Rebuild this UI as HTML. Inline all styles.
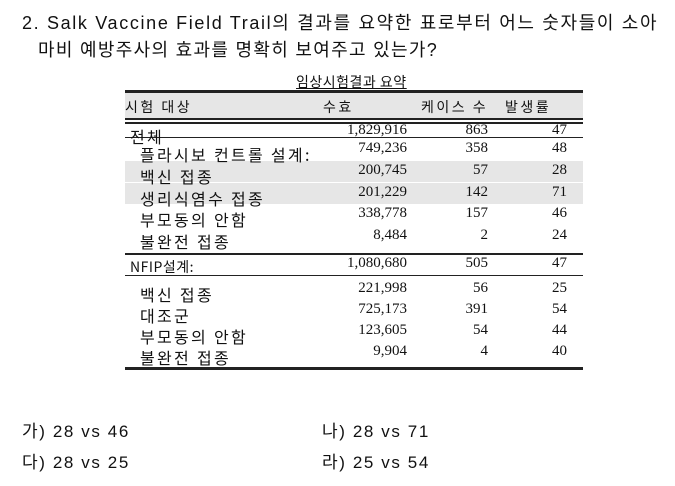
<!DOCTYPE html>
<html><head><meta charset="utf-8"><style>
body{margin:0;width:675px;height:486px;background:#fff;position:relative;overflow:hidden;font-family:"Liberation Sans","Noto Sans CJK KR",sans-serif;color:#111}
.a{position:absolute;white-space:nowrap}
.q{font-size:18px;letter-spacing:1.3px}
.o{font-size:17px;letter-spacing:1.6px}
.ser{font-family:"Liberation Serif","Noto Sans CJK KR",serif;font-size:15px}
.lab{font-family:"Noto Sans CJK KR",sans-serif;font-size:16px;letter-spacing:2.3px}
.hd{font-family:"Noto Sans CJK KR",sans-serif;font-size:14px;letter-spacing:2.5px}
.r{text-align:right}
.line{position:absolute;left:125px;width:458px;background:#222}
.grey{position:absolute;left:125px;width:458px;background:#e6e6e6}
</style></head><body>
<div class="a q" style="left:22px;top:9px;letter-spacing:1.65px">2. Salk Vaccine Field Trail의 결과를 요약한 표로부터 어느 숫자들이 소아</div>
<div class="a q" style="left:38px;top:36px">마비 예방주사의 효과를 명확히 보여주고 있는가?</div>

<div>
<div class="a lab" style="left:296px;top:72px;font-size:14px;letter-spacing:0.5px;text-decoration:underline">임상시험결과 요약</div>
<div class="grey" style="top:93px;height:25px"></div>
<div class="grey" style="top:161px;height:21px"></div>
<div class="grey" style="top:183px;height:21px"></div>
<div class="line" style="top:90px;height:3px"></div>
<div class="line" style="top:118px;height:2px"></div>
<div class="line" style="top:122px;height:2px"></div>
<div class="line" style="top:137px;height:1px"></div>
<div class="line" style="top:253px;height:2px"></div>
<div class="line" style="top:275px;height:1px"></div>
<div class="line" style="top:367px;height:3px"></div>
<div class="a hd" style="left:125px;top:97px">시험 대상</div>
<div class="a hd" style="left:323px;top:97px">수효</div>
<div class="a hd" style="left:421px;top:97px">케이스 수</div>
<div class="a hd" style="left:505px;top:97px">발생률</div>
<div id="rows"></div>
</div>

<div class="a o" style="left:22px;top:417px">가) 28 vs 46</div>
<div class="a o" style="left:322px;top:417px">나) 28 vs 71</div>
<div class="a o" style="left:22px;top:448px">다) 28 vs 25</div>
<div class="a o" style="left:322px;top:448px">라) 25 vs 54</div>

<script>
const labels=["전체","플라시보 컨트롤 설계:","백신 접종","생리식염수 접종","부모동의 안함","불완전 접종","NFIP설계:","백신 접종","대조군","부모동의 안함","불완전 접종"];
const counts=["1,829,916","749,236","200,745","201,229","338,778","8,484","1,080,680","221,998","725,173","123,605","9,904"];
const cases=["863","358","57","142","157","2","505","56","391","54","4"];
const rates=["47","48","28","71","46","24","47","25","54","44","40"];
const tops=[122,140,162,184,205,227,255,280,301,322,343];
const box=document.getElementById('rows');
for(let i=0;i<labels.length;i++){
  const t=tops[i];
  const lx=(i===0||i===6)?130:140;
  const l=document.createElement('div');l.className='a lab';
  
  
  l.style.cssText=`left:${lx}px;top:${t+2}px;`+(i===6?'font-size:14px;letter-spacing:0.5px':'');
  l.textContent=labels[i];box.appendChild(l);
  [[counts,407],[cases,488],[rates,567]].forEach(([arr,rx],j)=>{
    const d=document.createElement('div');d.className='a ser r';
    
    
    d.style.cssText=`right:${675-rx}px;top:${t}px`;
    d.textContent=arr[i];box.appendChild(d);
  });
}
</script>
</body></html>
